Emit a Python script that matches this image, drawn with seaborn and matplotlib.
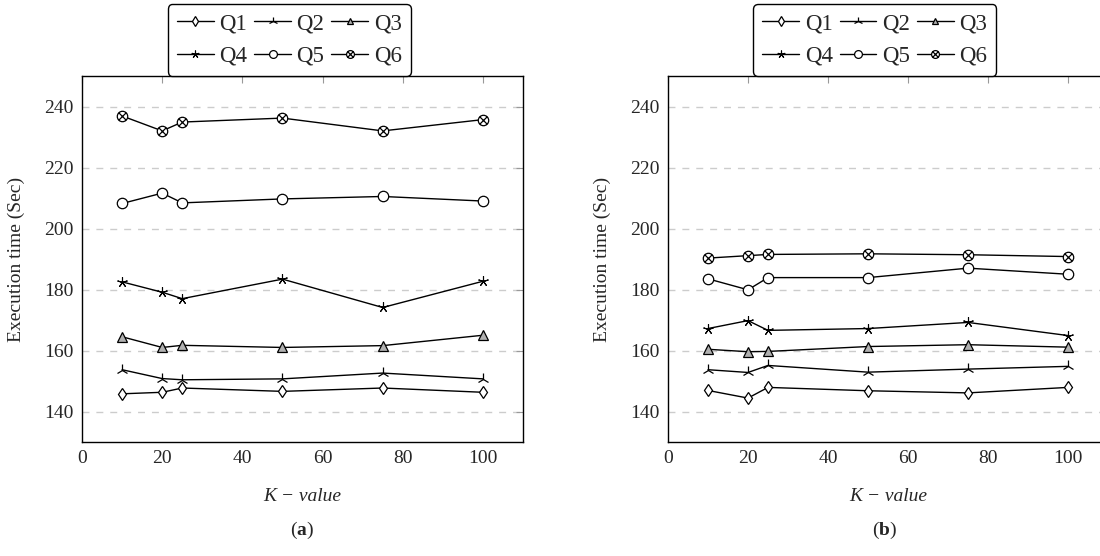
import matplotlib
matplotlib.use('Agg')
import matplotlib.pyplot as plt
from matplotlib.path import Path
import pandas as pd
import seaborn as sns

# K values on the x axis
k_values = [10, 20, 25, 50, 75, 100]
queries = ['Q1', 'Q2', 'Q3', 'Q4', 'Q5', 'Q6']

# panel (a) execution times (Sec)
a_q1 = [145.8, 146.3, 147.7, 146.6, 147.7, 146.3]
a_q2 = [153.7, 150.8, 150.4, 150.7, 152.6, 150.7]
a_q3 = [164.5, 161.0, 161.7, 161.0, 161.6, 165.0]
a_q4 = [182.5, 179.1, 177.0, 183.4, 174.1, 182.7]
a_q5 = [208.2, 211.6, 208.4, 209.7, 210.5, 209.0]
a_q6 = [236.9, 232.0, 234.9, 236.2, 232.0, 235.7]

# panel (b) execution times (Sec)
b_q1 = [146.9, 144.4, 147.9, 146.8, 146.1, 147.9]
b_q2 = [153.7, 152.8, 155.1, 152.9, 153.9, 154.8]
b_q3 = [160.4, 159.6, 159.7, 161.3, 161.9, 161.1]
b_q4 = [167.2, 169.8, 166.6, 167.2, 169.2, 164.9]
b_q5 = [183.5, 179.9, 183.9, 183.9, 187.0, 185.0]
b_q6 = [190.3, 191.1, 191.5, 191.7, 191.4, 190.8]

panels = {
    'a': [a_q1, a_q2, a_q3, a_q4, a_q5, a_q6],
    'b': [b_q1, b_q2, b_q3, b_q4, b_q5, b_q6],
}

# circle with a cross (pgfplots "otimes")
d = 0.7071
otimes = Path.make_compound_path(
    Path.unit_circle(),
    Path([(-d, -d), (d, d)], [Path.MOVETO, Path.LINETO]),
    Path([(-d, d), (d, -d)], [Path.MOVETO, Path.LINETO]),
)

# marker style per query (pgfplots look)
marker_style = {
    'Q1': dict(marker='d', markerfacecolor='white', markersize=6.5, markeredgewidth=0.9),
    'Q2': dict(marker='2', markersize=8.5, markeredgewidth=0.9),
    'Q3': dict(marker='^', markerfacecolor='#b0b0b0', markersize=6.5, markeredgewidth=0.9),
    'Q4': dict(marker=(5, 2, 0), markersize=7.5, markeredgewidth=0.8),
    'Q5': dict(marker='o', markerfacecolor='white', markersize=7.5, markeredgewidth=0.9),
    'Q6': dict(marker=otimes, markerfacecolor='white', markersize=7.5, markeredgewidth=0.9),
}

sns.set_style('white')
plt.rcParams['font.family'] = ['Liberation Serif', 'DejaVu Serif']
plt.rcParams['mathtext.fontset'] = 'custom'
plt.rcParams['mathtext.rm'] = 'Liberation Serif'
plt.rcParams['mathtext.it'] = 'Liberation Serif:italic'
plt.rcParams['mathtext.bf'] = 'Liberation Serif:bold'

fig = plt.figure(figsize=(11, 5.56), dpi=100)
W, H = 1100, 556
positions = {
    'a': [82 / W, (H - 442) / H, 441 / W, 366 / H],
    'b': [668 / W, (H - 442) / H, 440 / W, 366 / H],
}
caption_x = {'a': 302, 'b': 885}

for name, series in panels.items():
    ax = fig.add_axes(positions[name])
    for q, vals in zip(queries, series):
        df = pd.DataFrame({'k': k_values, 'time': vals})
        sns.lineplot(data=df, x='k', y='time', ax=ax, color='black',
                     linewidth=1.0, markeredgecolor='black', label=q,
                     **marker_style[q])

    ax.set_xlim(0, 110)
    ax.set_ylim(130, 250)
    ax.set_xticks([0, 20, 40, 60, 80, 100])
    ax.set_yticks([140, 160, 180, 200, 220, 240])
    ax.yaxis.grid(True, linestyle=(0, (5, 5)), color='#cccccc', linewidth=1.0)
    ax.xaxis.grid(False)
    ax.tick_params(axis='both', direction='in', length=5, color='#999999',
                   labelsize=14, top=True, right=True, pad=6)
    for sp in ax.spines.values():
        sp.set_color('black')
        sp.set_linewidth(1.0)
        sp.set_visible(True)

    ax.set_ylabel('Execution time (Sec)', fontsize=14)
    ax.yaxis.set_label_coords(-0.13, 0.5)
    ax.set_xlabel('K \u2212 value', fontsize=14, fontstyle='italic')
    ax.xaxis.set_label_coords(0.5, -0.125)

    # legend filled row by row like the reference
    handles, labels = ax.get_legend_handles_labels()
    order = [0, 3, 1, 4, 2, 5]
    leg = ax.legend([handles[i] for i in order], [labels[i] for i in order],
                    loc='lower center', bbox_to_anchor=(0.47, 1.0), ncol=3,
                    borderaxespad=0, fontsize=16.5, frameon=True, fancybox=True,
                    handlelength=1.6, handletextpad=0.25, columnspacing=0.3,
                    labelspacing=0.5, borderpad=0.4, markerscale=0.75)
    leg.get_frame().set_edgecolor('black')
    leg.get_frame().set_linewidth(1.0)
    leg.get_frame().set_alpha(1.0)

    fig.text(caption_x[name] / W, 1 - 530 / H, '($\\mathbf{%s}$)' % name,
             fontsize=14, ha='center', va='center')

fig.savefig('out.png', dpi=100)
